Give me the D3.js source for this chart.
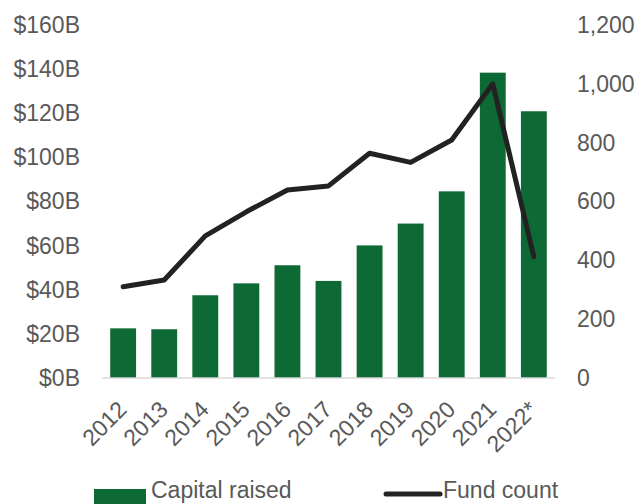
<!DOCTYPE html>
<html>
<head>
<meta charset="utf-8">
<script src="https://cdn.jsdelivr.net/npm/d3@7"></script>
<style>
  html, body { margin: 0; padding: 0; background: #fff; }
  svg { display: block; font-family: "Liberation Sans", Arial, sans-serif; }
</style>
</head>
<body>
<svg id="chart" width="640" height="504"></svg>
<script>
// Fundraising by year: capital raised (bars, left axis) and fund count (line, right axis)
const years = ["2012", "2013", "2014", "2015", "2016", "2017", "2018", "2019", "2020", "2021", "2022*"];
const capitalRaised = [22.5, 22.1, 37.5, 42.9, 51.1, 44.0, 60.1, 70.0, 84.6, 138.4, 120.9];
const fundCount = [310, 333, 483, 565, 639, 653, 764, 733, 809, 1000, 412];
const leftTicks = [0, 20, 40, 60, 80, 100, 120, 140, 160];
const rightTicks = [0, 200, 400, 600, 800, 1000, 1200];

const svg = d3.select("#chart");
const margin = { left: 102, right: 85, top: 25, bottom: 126 };
const W = 640, H = 504;
const x0 = margin.left, x1 = W - margin.right;
const y0 = H - margin.bottom, y1 = margin.top;

const x = d3.scaleBand().domain(years).range([x0, x1]).paddingInner(0.37).paddingOuter(0.2);
const yL = d3.scaleLinear().domain([0, 160]).range([y0, y1]);
const yR = d3.scaleLinear().domain([0, 1200]).range([y0, y1]);

const green = "#0e6a35";
const textColor = "#595959";
const fontSize = "23px";

// Bars
svg.append("g").selectAll("rect").data(years).join("rect")
  .attr("x", d => x(d))
  .attr("width", x.bandwidth())
  .attr("y", (d, i) => yL(capitalRaised[i]))
  .attr("height", (d, i) => yL(0) - yL(capitalRaised[i]))
  .attr("fill", green);

// Category axis line
svg.append("line")
  .attr("x1", x0).attr("x2", x1)
  .attr("y1", y0).attr("y2", y0)
  .attr("stroke", "#d9d9d9").attr("stroke-width", 1.5);

// Fund count line
const line = d3.line()
  .x((d, i) => x(years[i]) + x.bandwidth() / 2)
  .y(d => yR(d));
svg.append("path")
  .datum(fundCount)
  .attr("d", line)
  .attr("fill", "none")
  .attr("stroke", "#222")
  .attr("stroke-width", 5)
  .attr("stroke-linecap", "round")
  .attr("stroke-linejoin", "round");

// Left axis
const leftAxis = d3.axisLeft(yL).tickValues(leftTicks)
  .tickFormat(d => "$" + d + "B").tickSize(0).tickPadding(0);
const gL = svg.append("g").attr("transform", `translate(80,0)`).call(leftAxis);
gL.select(".domain").remove();
gL.selectAll("text").attr("fill", textColor).style("font-size", fontSize);

// Right axis
const rightAxis = d3.axisRight(yR).tickValues(rightTicks)
  .tickFormat(d3.format(",")).tickSize(0).tickPadding(0);
const gR = svg.append("g").attr("transform", `translate(577,0)`).call(rightAxis);
gR.select(".domain").remove();
gR.selectAll("text").attr("fill", textColor).style("font-size", fontSize);

// Bottom axis with rotated year labels
const bottomAxis = d3.axisBottom(x).tickSize(0).tickPadding(0);
const gB = svg.append("g").attr("transform", `translate(0,${y0})`).call(bottomAxis);
gB.select(".domain").remove();
gB.selectAll("text")
  .attr("fill", textColor)
  .style("font-size", fontSize)
  .attr("text-anchor", "end")
  .attr("dy", null)
  .attr("y", 0)
  .attr("transform", "translate(5,33) rotate(-45)");

// Legend
const legend = svg.append("g");
legend.append("rect").attr("x", 94).attr("y", 489).attr("width", 52).attr("height", 15).attr("fill", green);
legend.append("text").attr("x", 151).attr("y", 498).text("Capital raised")
  .attr("fill", textColor).style("font-size", fontSize);
legend.append("line").attr("x1", 386).attr("x2", 440).attr("y1", 494).attr("y2", 494)
  .attr("stroke", "#222").attr("stroke-width", 5).attr("stroke-linecap", "round");
legend.append("text").attr("x", 443).attr("y", 498).text("Fund count")
  .attr("fill", textColor).style("font-size", fontSize);
</script>
</body>
</html>
